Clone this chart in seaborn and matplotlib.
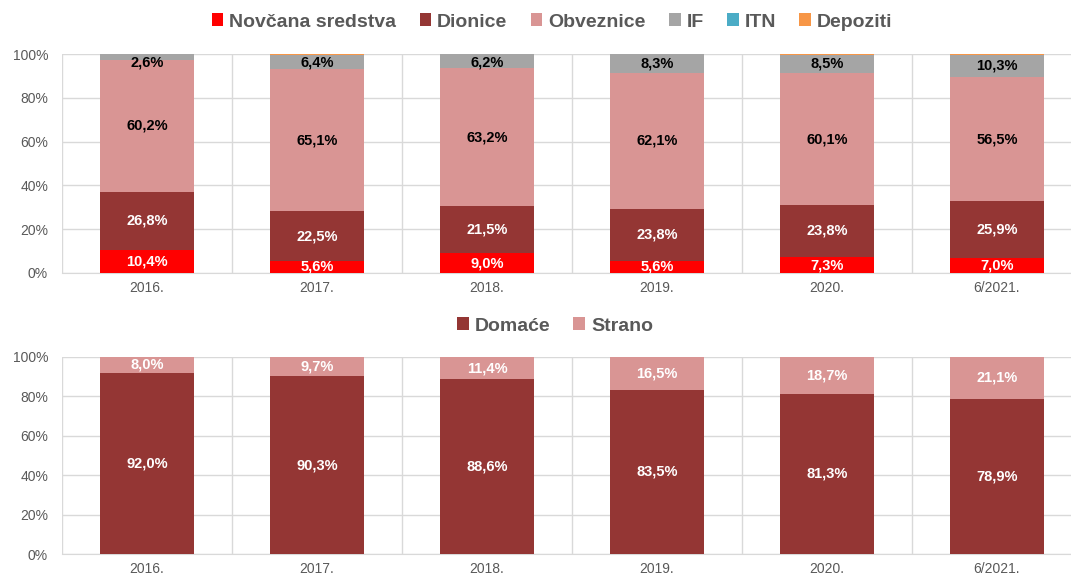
import matplotlib
matplotlib.use("Agg")
import matplotlib.pyplot as plt
import seaborn as sns
import pandas as pd
import numpy as np

# Data (percentages)

years = ["2016.", "2017.", "2018.", "2019.", "2020.", "6/2021."]

novcana = [10.4, 5.6, 9.0, 5.6, 7.3, 7.0]
dionice = [26.8, 22.5, 21.5, 23.8, 23.8, 25.9]
obveznice = [60.2, 65.1, 63.2, 62.1, 60.1, 56.5]
inv_fondovi = [2.6, 6.4, 6.2, 8.3, 8.5, 10.3]
itn = [0.0, 0.0, 0.0, 0.0, 0.0, 0.0]
depoziti = [0.0, 0.4, 0.1, 0.2, 0.3, 0.3]

domace = [92.0, 90.3, 88.6, 83.5, 81.3, 78.9]
strano = [8.0, 9.7, 11.4, 16.5, 18.7, 21.1]

top_series = ["Novčana sredstva", "Dionice", "Obveznice", "IF", "ITN", "Depoziti"]
top_colors = ["#FF0000", "#943634", "#D99594", "#A5A5A5", "#4BACC6", "#F79646"]
top_text = ["white", "white", "black", "black", None, None]

bot_series = ["Domaće", "Strano"]
bot_colors = ["#943634", "#D99594"]
bot_text = ["white", "white"]

df_top = pd.DataFrame(
    {"year": years, "Novčana sredstva": novcana, "Dionice": dionice,
     "Obveznice": obveznice, "IF": inv_fondovi, "ITN": itn, "Depoziti": depoziti}
)
df_bot = pd.DataFrame({"year": years, "Domaće": domace, "Strano": strano})

sns.set_style("white")
plt.rcParams["font.family"] = ["Liberation Sans", "DejaVu Sans"]

W, H = 1071, 575
fig = plt.figure(figsize=(W / 100, H / 100), dpi=100)

grid_c = "#D9D9D9"
tick_c = "#595959"


def panel(rect, df, series, colors, text_cols, legend_x, legend_y):
    ax = fig.add_axes(rect)
    bottom = np.zeros(len(df))
    for name, col, tc in zip(series, colors, text_cols):
        vals = df[name].to_numpy()
        sns.barplot(x="year", y=name, data=df, color=col, bottom=bottom,
                    width=0.55, ax=ax, label=name, saturation=1, zorder=3,
                    linewidth=0)
        if tc is not None:
            for i, v in enumerate(vals):
                if v <= 0:
                    continue
                yc = min(bottom[i] + v / 2, 96.0)
                ax.text(i, yc, f"{v:.1f}%".replace(".", ","), ha="center",
                        va="center", color=tc, fontsize=10.5, fontweight="bold",
                        zorder=4)
        bottom = bottom + vals
    handles, labels = ax.get_legend_handles_labels()
    if ax.get_legend() is not None:
        ax.get_legend().remove()
    ax.set_ylim(0, 100)
    ax.set_xlim(-0.5, 5.5)
    ax.set_yticks(range(0, 101, 20))
    ax.set_yticklabels([f"{t}%" for t in range(0, 101, 20)])
    ax.set_xlabel("")
    ax.set_ylabel("")
    ax.set_xticks(np.arange(-0.5, 6, 1), minor=True)
    ax.grid(True, axis="y", color=grid_c, linewidth=1, zorder=0)
    ax.grid(True, axis="x", which="minor", color=grid_c, linewidth=1, zorder=0)
    ax.grid(False, axis="x", which="major")
    for s in ["top", "right", "left"]:
        ax.spines[s].set_visible(False)
    ax.spines["bottom"].set_color(grid_c)
    ax.tick_params(axis="both", which="both", length=0, colors=tick_c,
                   labelsize=10)
    ax.tick_params(axis="x", pad=6)
    ax.tick_params(axis="y", pad=10)
    leg = fig.legend(handles, labels, loc="center",
                     bbox_to_anchor=(legend_x, legend_y),
                     ncol=len(series), frameon=False, handlelength=0.6,
                     handleheight=0.6, handletextpad=0.3, columnspacing=1.2,
                     prop={"size": 14, "weight": "bold"})
    for t in leg.get_texts():
        t.set_color(tick_c)
    return ax


x0 = 62 / W
w = (1082 - 62) / W
panel([x0, 1 - 273 / H, w, (273 - 54) / H], df_top, top_series, top_colors,
      top_text, 552 / W, 1 - 22 / H)
panel([x0, 1 - 554 / H, w, (554 - 357) / H], df_bot, bot_series, bot_colors,
      bot_text, 555 / W, 1 - 326 / H)

fig.savefig("out.png", dpi=100)
